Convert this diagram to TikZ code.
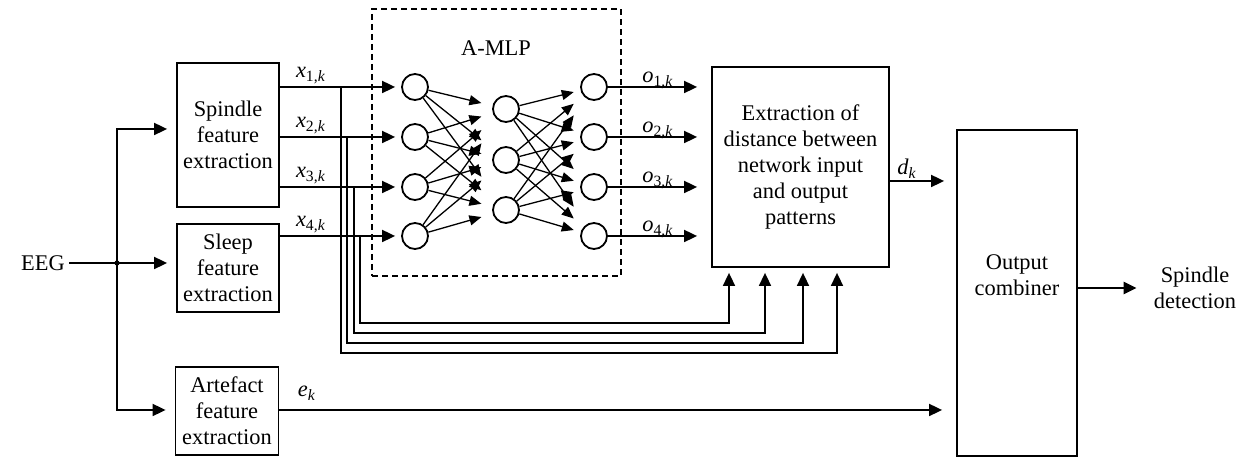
\documentclass[tikz,border=0pt]{standalone}
\usepackage{fontspec}
\setmainfont{Liberation Serif}
\usetikzlibrary{arrows.meta,calc}
\newcommand\dfont{\fontsize{11.2}{13}\selectfont}
\begin{document}
\begin{tikzpicture}[x=0.5pt,y=-0.5pt,
  box/.style={draw,line width=0.9pt,align=center,inner sep=0pt,font=\dfont},
  txt/.style={align=center,font=\dfont,inner sep=2pt},
  lab/.style={font=\dfont,inner sep=0pt,anchor=base},
  arr/.style={-{Triangle[length=6.5pt,width=6pt]},line width=0.9pt},
  narr/.style={-{Triangle[length=6pt,width=5pt]},line width=0.65pt},
  neuron/.style={circle,draw,line width=0.9pt,minimum size=13pt,inner sep=0pt},
  fb/.style={arr,line width=0.8pt}]
\useasboundingbox (0,0) rectangle (1249,458);

% text and boxes
\node[txt] (eeg) at (43,263) {EEG};
\node[box,minimum width=51pt,minimum height=72pt] (spin) at (228,135) {Spindle\\feature\\extraction};
\node[box,minimum width=51pt,minimum height=44pt] (sleep) at (228,268) {Sleep\\feature\\extraction};
\node[box,minimum width=51.5pt,minimum height=44pt] (art) at (227,411) {Artefact\\feature\\extraction};
\node[box,minimum width=88.5pt,minimum height=100pt] (ext) at (800.5,167) {Extraction of\\distance between\\network input\\and output\\patterns};
\node[box,minimum width=60pt,minimum height=163pt] (comb) at (1017,293) {};
\node[txt] (combt) at (1017,275) {Output\\combiner};
\node[txt] (det) at (1195,288) {Spindle\\detection};
\node[draw,dash pattern=on 3pt off 2pt,line width=0.6pt,minimum width=124.5pt,minimum height=133.5pt] (mlp) at (496.5,142.5) {};
\node[txt] (mlpt) at (496,48) {A-MLP};

% neurons
\foreach \i/\y in {1/87,2/137,3/187,4/236}{
  \node[neuron] (i\i) at (415,\y) {};
  \node[neuron] (o\i) at (594,\y) {};
}
\foreach \j/\y in {1/109,2/160,3/210}{
  \node[neuron] (h\j) at (506,\y) {};
}

% junction and helper coordinates
\node[circle,fill,inner sep=0pt,minimum size=2.6pt] (jn) at (117,263) {};
\coordinate (ys) at (0,129);
\coordinate (ya) at (0,410);
\coordinate (yd) at (0,181);
\coordinate (b1) at (341,353);
\coordinate (b2) at (347,343);
\coordinate (b3) at (354,333);
\coordinate (b4) at (360,323);
\coordinate (c1) at (837,0);
\coordinate (c2) at (803,0);
\coordinate (c3) at (765,0);
\coordinate (c4) at (729,0);

% EEG distribution
\draw[arr,shorten >=4.5pt] (eeg) -- (sleep.west |- jn);
\draw[arr,shorten >=4.5pt] (jn.center) |- (spin.west |- ys);
\draw[arr,shorten >=4.5pt] (jn.center) |- (art.west |- ya);

% feature outputs to network
\draw[arr,shorten >=3pt] (spin.east |- i1) -- (i1);
\draw[arr,shorten >=3pt] (spin.east |- i2) -- (i2);
\draw[arr,shorten >=3pt] (spin.east |- i3) -- (i3);
\draw[arr,shorten >=3pt] (sleep.east |- i4) -- (i4);
\node[lab] (lx1) at (311,78) {\textit{x}\textsubscript{1,\textit{k}}};
\node[lab] (lx2) at (311,128) {\textit{x}\textsubscript{2,\textit{k}}};
\node[lab] (lx3) at (311,178) {\textit{x}\textsubscript{3,\textit{k}}};
\node[lab] (lx4) at (311,227) {\textit{x}\textsubscript{4,\textit{k}}};

% feedback of inputs to distance block
\draw[fb,shorten >=2.5pt] (b1 |- i1) -- (b1) -| (c1 |- ext.south);
\draw[fb,shorten >=2.5pt] (b2 |- i2) -- (b2) -| (c2 |- ext.south);
\draw[fb,shorten >=2.5pt] (b3 |- i3) -- (b3) -| (c3 |- ext.south);
\draw[fb,shorten >=2.5pt] (b4 |- i4) -- (b4) -| (c4 |- ext.south);

% network connections
\foreach \a in {1,...,4}{
  \foreach \b in {1,2,3}{
    \draw[narr] (i\a) -- ($(i\a.center)!0.73!(h\b.center)$);
    \draw[narr] (h\b) -- ($(h\b.center)!0.77!(o\a.center)$);
  }
}

% network outputs
\foreach \a in {1,...,4}{
  \draw[arr,shorten >=7pt] (o\a) -- (ext.west |- o\a);
}
\node[lab] (lo1) at (658,83) {\textit{o}\textsubscript{1,\textit{k}}};
\node[lab] (lo2) at (658,133) {\textit{o}\textsubscript{2,\textit{k}}};
\node[lab] (lo3) at (658,183) {\textit{o}\textsubscript{3,\textit{k}}};
\node[lab] (lo4) at (658,232) {\textit{o}\textsubscript{4,\textit{k}}};

% distance and artefact to combiner
\draw[arr,shorten >=6pt] (ext.east |- yd) -- (comb.west |- yd);
\node[lab] (ld) at (907,175) {\textit{d}\textsubscript{\textit{k}}};
\draw[arr,shorten >=7pt] (art.east |- ya) -- (comb.west |- ya);
\node[lab] (le) at (307,397) {\textit{e}\textsubscript{\textit{k}}};

% final output
\draw[arr,line width=1.3pt,shorten >=6.5pt] (comb.east |- det) -- (det);
\end{tikzpicture}
\end{document}
